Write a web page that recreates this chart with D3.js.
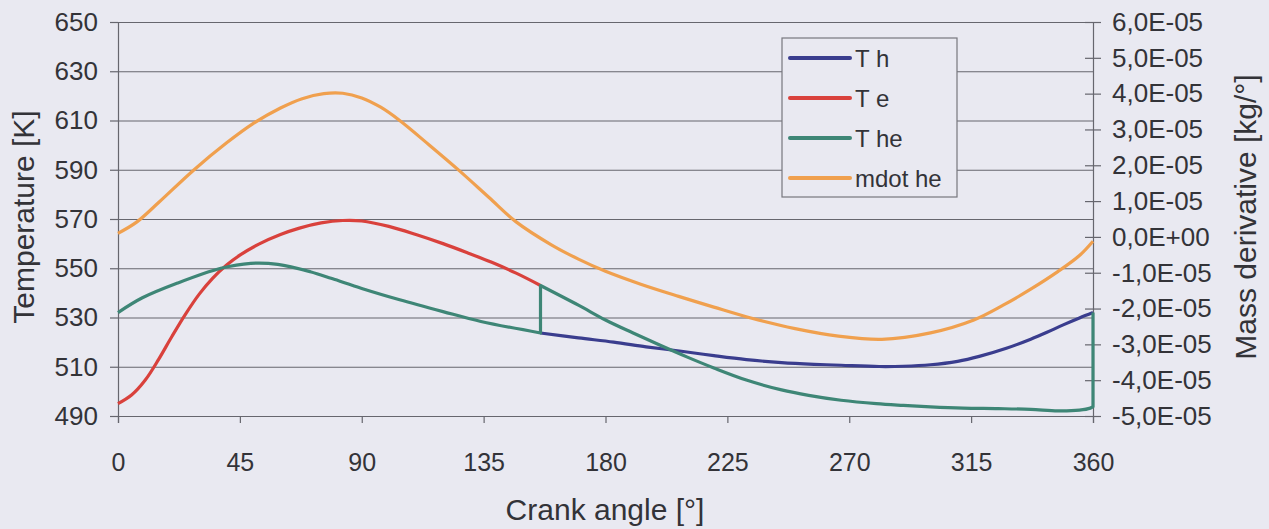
<!DOCTYPE html>
<html>
<head>
<meta charset="utf-8">
<script src="https://cdn.jsdelivr.net/npm/d3@7"></script>
<style>
  html, body { margin: 0; padding: 0; background: #e9e9f1; }
  svg { display: block; font-family: "Liberation Sans", Arial, sans-serif; }
</style>
</head>
<body>
<svg id="chart" width="1269" height="529"></svg>
<script>
// ---------- DATA ----------
const xTicks = [0, 45, 90, 135, 180, 225, 270, 315, 360];
const leftTicks = [490, 510, 530, 550, 570, 590, 610, 630, 650];
const rightTicks = [-5e-5, -4e-5, -3e-5, -2e-5, -1e-5, 0, 1e-5, 2e-5, 3e-5, 4e-5, 5e-5, 6e-5];

const seriesNames = ["T h", "T e", "T he", "mdot he"];
const seriesColors = ["#3a3d8e", "#d9413c", "#3e8676", "#f0a04e"];

// T h (hot) [K]
const thAngle = [156, 170, 183, 195, 208, 220, 232, 245, 257, 267, 281, 290, 300, 310, 318, 328, 337, 343, 349, 355, 360];
const thValue = [523.7, 521.7, 520, 518.1, 516.3, 514.5, 512.9, 511.7, 511, 510.6, 510.1, 510.2, 510.8, 512.2, 514.2, 517.5, 521.2, 524, 527, 529.8, 532];

// T e (expansion) [K]
const teAngle = [0, 5, 10, 15, 20, 25, 30, 35, 40, 45, 52, 60, 67, 75, 83, 90, 100, 110, 120, 129, 138, 147, 156];
const teValue = [495, 498.5, 504.5, 513, 522.5, 531.5, 539.5, 546, 551.2, 555.3, 559.8, 563.7, 566.3, 568.4, 569.4, 569.2, 567, 563.7, 560, 556.3, 552.4, 548, 543];

// T he [K]  (repeated angles = vertical jumps)
const theAngle = [0, 9, 22, 38, 49, 59, 71, 79, 90, 104, 120, 134, 156, 156, 170, 180, 190, 200, 210, 220, 232, 245, 255, 267, 280, 290, 300, 312, 325, 337, 347, 355, 359, 360, 360];
const theValue = [532, 538, 544, 550, 552, 551.6, 548.6, 545.8, 541.8, 537.2, 532.4, 528.4, 523.7, 543, 535, 529, 523.8, 518.8, 514, 509.5, 504.6, 500.6, 498.4, 496.4, 495, 494.3, 493.7, 493.2, 493, 492.7, 492.1, 492.4, 493.2, 493.8, 532];

// mdot he [kg/°]
const mAngle = [0, 7, 15, 28, 40, 50, 60, 68, 76, 83, 90, 97, 104, 115, 126, 137, 147, 160, 170, 180, 193, 207, 220, 234, 250, 266, 282, 300, 316, 327, 337, 347, 355, 360];
const mValue = [0.1e-5, 0.42e-5, 0.96e-5, 1.87e-5, 2.62e-5, 3.17e-5, 3.6e-5, 3.86e-5, 4.0e-5, 4.01e-5, 3.88e-5, 3.62e-5, 3.25e-5, 2.56e-5, 1.85e-5, 1.1e-5, 0.42e-5, -0.22e-5, -0.62e-5, -0.96e-5, -1.32e-5, -1.66e-5, -1.96e-5, -2.27e-5, -2.56e-5, -2.77e-5, -2.86e-5, -2.68e-5, -2.32e-5, -1.9e-5, -1.46e-5, -0.97e-5, -0.52e-5, -0.12e-5];

// ---------- LAYOUT ----------
const svg = d3.select("#chart");
const L = 118, R = 1093, T = 22, B = 416;

const x = d3.scaleLinear().domain([0, 360]).range([L, R]);
const yL = d3.scaleLinear().domain([490, 650]).range([B, T]);
const yR = d3.scaleLinear().domain([-5e-5, 6e-5]).range([B, T]);

const gridColor = "#66666e";
const textColor = "#333338";
const fontFam = "Liberation Sans, Arial, sans-serif";

// gridlines
svg.append("g")
  .attr("transform", `translate(${L},0)`)
  .call(d3.axisLeft(yL).tickValues(leftTicks).tickSize(-(R - L)).tickFormat(""))
  .call(g => g.select(".domain").remove())
  .call(g => g.selectAll("line").attr("stroke", gridColor).attr("stroke-width", 1.2));

// left axis
svg.append("g")
  .attr("transform", `translate(${L},0)`)
  .call(d3.axisLeft(yL).tickValues(leftTicks).tickSize(8).tickPadding(12))
  .call(g => g.select(".domain").attr("stroke", gridColor).attr("stroke-width", 1.2))
  .call(g => g.selectAll("line").attr("stroke", gridColor).attr("stroke-width", 1.2))
  .call(g => g.selectAll("text").attr("fill", textColor).attr("font-size", 26).attr("font-family", fontFam));

// bottom axis
svg.append("g")
  .attr("transform", `translate(0,${B})`)
  .call(d3.axisBottom(x).tickValues(xTicks).tickSize(7).tickPadding(30))
  .call(g => g.select(".domain").attr("stroke", gridColor).attr("stroke-width", 1.2))
  .call(g => g.selectAll("line").attr("stroke", gridColor).attr("stroke-width", 1.2))
  .call(g => g.selectAll("text").attr("fill", textColor).attr("font-size", 25).attr("font-family", fontFam));

// right axis (ticks crossing the axis)
const fmtR = v => {
  if (Math.abs(v) < 1e-12) return "0,0E+00";
  const s = v.toExponential(1).replace(".", ",").replace("e", "E");
  return s.replace(/E([+-])(\d)$/, "E$10$2");
};
svg.append("g")
  .attr("transform", `translate(${R},0)`)
  .call(d3.axisRight(yR).tickValues(rightTicks).tickSize(-8).tickFormat(""))
  .call(g => g.select(".domain").remove())
  .call(g => g.selectAll("line").attr("stroke", gridColor).attr("stroke-width", 1.2));
svg.append("g")
  .attr("transform", `translate(${R},0)`)
  .call(d3.axisRight(yR).tickValues(rightTicks).tickSize(8).tickPadding(11).tickFormat(fmtR))
  .call(g => g.select(".domain").attr("stroke", gridColor).attr("stroke-width", 1.2))
  .call(g => g.selectAll("line").attr("stroke", gridColor).attr("stroke-width", 1.2))
  .call(g => g.selectAll("text").attr("fill", textColor).attr("font-size", 26).attr("font-family", fontFam));

// ---------- LINES ----------
const curve = d3.curveCatmullRom.alpha(0.5);
const lineL = d3.line().x(d => x(d[0])).y(d => yL(d[1])).curve(curve);
const lineR = d3.line().x(d => x(d[0])).y(d => yR(d[1])).curve(curve);

const zip = (a, b) => a.map((v, i) => [v, b[i]]);

// split at repeated angles so jumps are drawn as straight vertical segments
function jumpPath(pts, gen, ys) {
  const runs = [];
  let cur = [];
  pts.forEach((p, i) => {
    if (i > 0 && p[0] === pts[i - 1][0]) { runs.push(cur); cur = []; }
    cur.push(p);
  });
  runs.push(cur);
  return runs.map((r, i) => {
    if (r.length === 1) return `${i ? "L" : "M"}${x(r[0][0])},${ys(r[0][1])}`;
    const d = gen(r);
    return i ? d.replace(/^M/, "L") : d;
  }).join("");
}

const plot = svg.append("g").attr("fill", "none").attr("stroke-width", 3.2).attr("stroke-linejoin", "round");
plot.append("path").datum(zip(mAngle, mValue)).attr("d", lineR).attr("stroke", seriesColors[3]);
plot.append("path").datum(zip(teAngle, teValue)).attr("d", lineL).attr("stroke", seriesColors[1]);
plot.append("path").datum(zip(thAngle, thValue)).attr("d", lineL).attr("stroke", seriesColors[0]);
plot.append("path").datum(zip(theAngle, theValue)).attr("d", d => jumpPath(d, lineL, yL)).attr("stroke", seriesColors[2]);

// ---------- TITLES ----------
svg.append("text")
  .attr("transform", "translate(34,217) rotate(-90)")
  .attr("text-anchor", "middle").attr("font-size", 30).attr("fill", textColor)
  .text("Temperature [K]");
svg.append("text")
  .attr("transform", "translate(1256,217) rotate(-90)")
  .attr("text-anchor", "middle").attr("font-size", 30).attr("fill", textColor)
  .text("Mass derivative [kg/°]");
svg.append("text")
  .attr("x", 605).attr("y", 520)
  .attr("text-anchor", "middle").attr("font-size", 30).attr("fill", textColor)
  .text("Crank angle [°]");

// ---------- LEGEND ----------
const leg = svg.append("g");
leg.append("rect").attr("x", 782).attr("y", 38).attr("width", 175).attr("height", 159)
  .attr("fill", "#e9e9f1").attr("stroke", "#77777e").attr("stroke-width", 1.2);
seriesNames.forEach((name, i) => {
  const cy = 58 + i * 40;
  leg.append("line").attr("x1", 790).attr("x2", 850).attr("y1", cy).attr("y2", cy)
    .attr("stroke", seriesColors[i]).attr("stroke-width", 4).attr("stroke-linecap", "round");
  leg.append("text").attr("x", 855).attr("y", cy + 9).attr("font-size", 24).attr("fill", textColor).text(name);
});
</script>
</body>
</html>
